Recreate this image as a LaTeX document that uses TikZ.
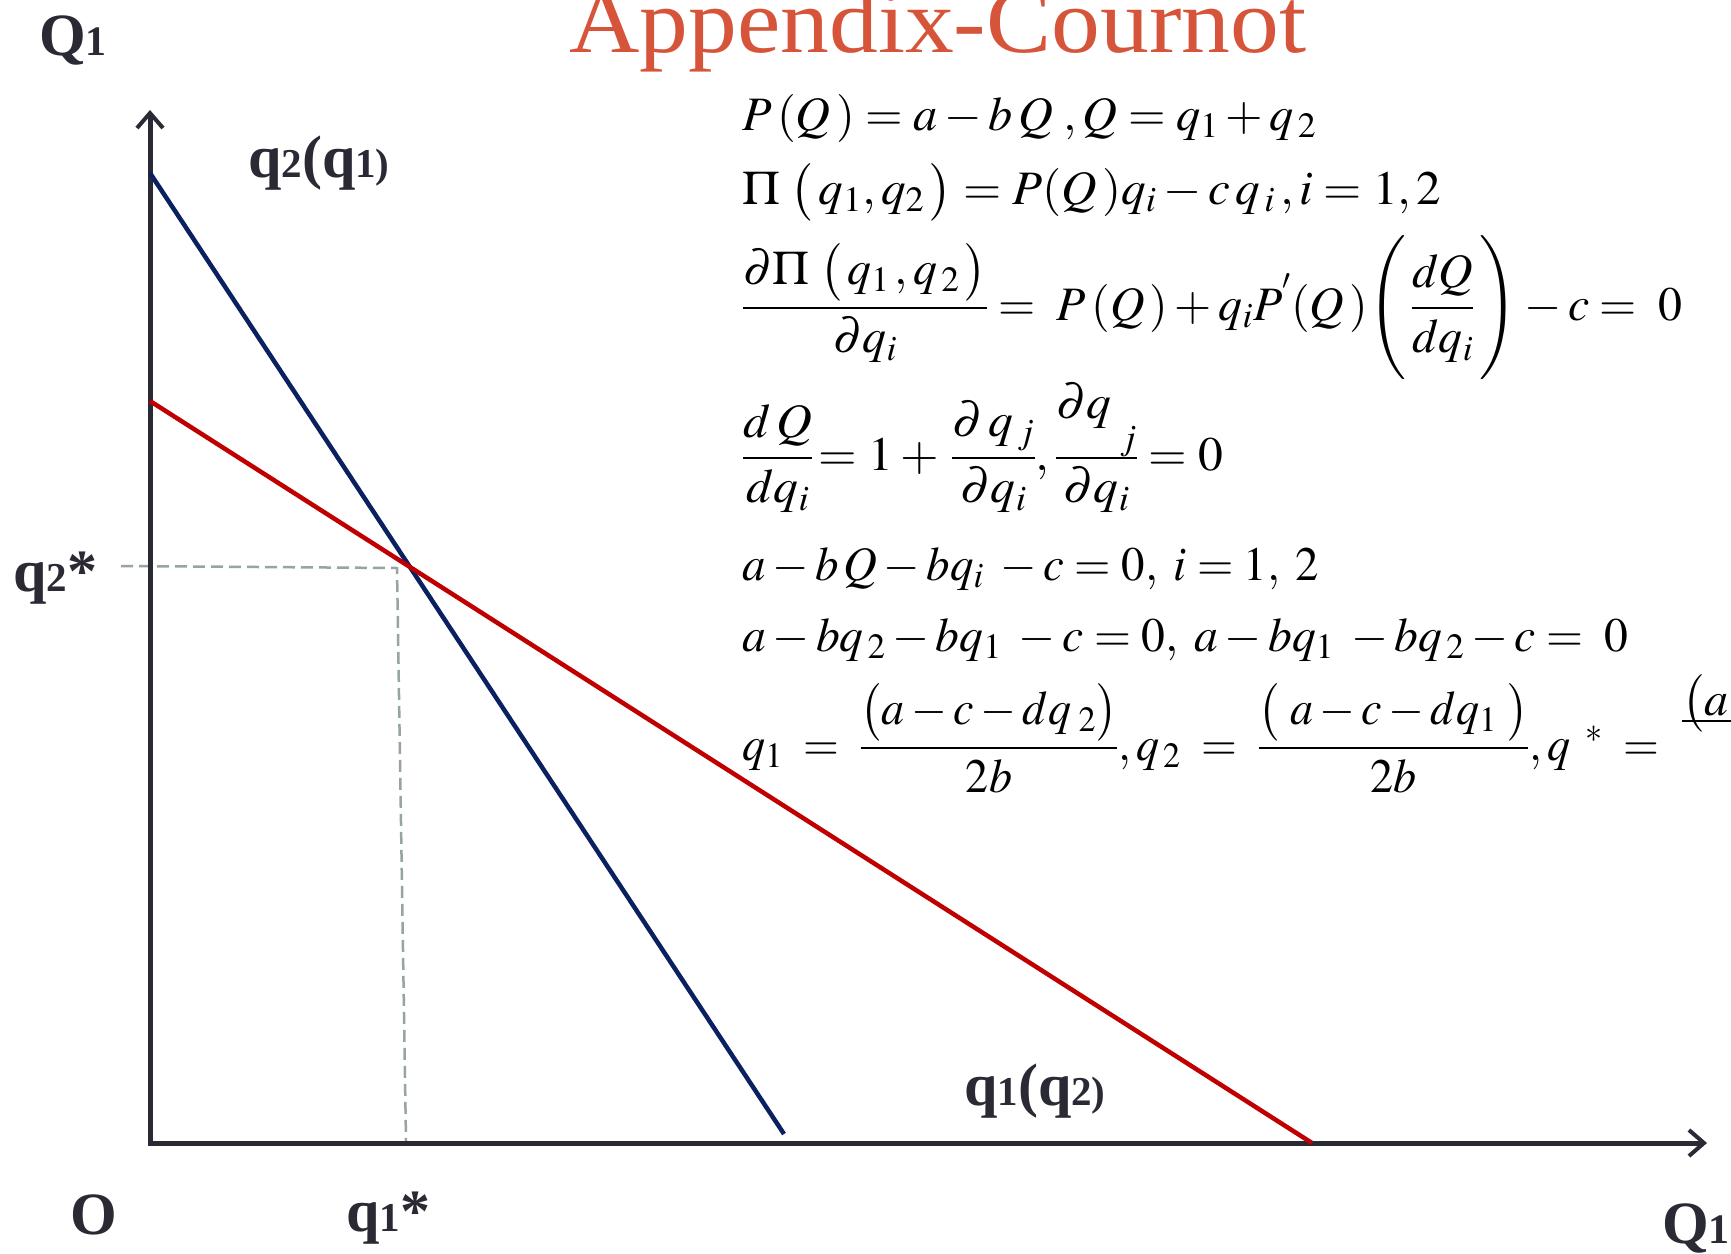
\documentclass[tikz,border=0pt]{standalone}
\usepackage{amsmath}
\usepackage{mathptmx}
\usepackage{graphicx}
\usepackage[no-math]{fontspec}
\setmainfont{Liberation Serif}
\usetikzlibrary{arrows.meta}
\definecolor{axisc}{RGB}{42,42,52}
\definecolor{bluel}{RGB}{10,32,96}
\definecolor{redl}{RGB}{192,0,0}
\definecolor{titlec}{RGB}{214,84,58}
\definecolor{dashc}{RGB}{150,166,158}
\newcommand\dgt[1]{{\fontsize{41}{44}\selectfont #1}}
\newcommand\dgQ[1]{{\fontsize{42}{46}\selectfont #1}}
\tikzset{
  axisline/.style={draw=axisc, line width=5pt, line join=miter,
    {Straight Barb[length=15pt,width=26pt,line width=4pt]}-{Straight Barb[length=15pt,width=26pt,line width=4pt]}},
  blueline/.style={draw=bluel, line width=4.5pt},
  redline/.style={draw=redl, line width=4.5pt},
  guide/.style={draw=dashc, line width=2.5pt, dash pattern=on 12pt off 6pt},
  lbl/.style={text=axisc, inner sep=0pt, anchor=base west, font=\bfseries\fontsize{60}{66}\selectfont},
  biglbl/.style={text=axisc, inner sep=0pt, anchor=base west, font=\bfseries\fontsize{60}{66}\selectfont},
  eq/.style={inner sep=0pt, anchor=base west, font=\fontsize{48}{54}\selectfont},
  titlestyle/.style={inner sep=0pt, anchor=base west, text=titlec, font=\fontsize{92}{100}\selectfont},
}
\begin{document}
\begin{tikzpicture}[x=1pt,y=-1pt]
\clip (0,0) rectangle (1731,1253);
\fill[white] (0,0) rectangle (1731,1253);

% coordinates
\coordinate (O) at (150,1143);
\coordinate (Ytop) at (150,110);
\coordinate (Xend) at (1707,1143);
\coordinate (B1) at (150,173);
\coordinate (B2) at (784,1134);
\coordinate (R1) at (150,401);
\coordinate (R2) at (1312,1143);
\coordinate (D1) at (121,566);
\coordinate (D2) at (397,568);
\coordinate (D3) at (406,1141);

% guides
\draw[guide] (D1) -- (D2) -- (D3);
% axes
\draw[axisline] (Ytop) -- (O) -- (Xend);
% reaction curves
\draw[blueline] (B1) -- (B2);
\draw[redline] (R1) -- (R2);

% title
\node[titlestyle] (title) at (569,52) {\resizebox{737pt}{\height}{Appendix-Cournot}};

% axis labels
\node[biglbl] (Qtop) at (39,55) {Q\dgQ{1}};
\node[biglbl] (Qright) at (1662,1243) {Q\dgQ{1}};
\node[biglbl] (Olbl) at (70,1234) {O};
\node[lbl] (q2q1) at (248,177) {q\dgt{2}(q\dgt{1}\dgt{)}};
\node[lbl] (q1q2) at (964,1105) {q\dgt{1}(q\dgt{2}\dgt{)}};
\node[lbl] (q2star) at (13,591) {q\dgt{2}*};
\node[lbl] (q1star) at (346,1231) {q\dgt{1}*};

% equations
\node[eq] (e1) at (742,130) {\resizebox{574pt}{\height}{$P\,(Q\,) = a - b\,Q\;, Q = q_1 + q_{\,2}$}};
\node[eq] (e2) at (742,204) {\resizebox{699pt}{\height}{$\Pi\;\bigl(\,q_1, q_{2}\,\bigr) = P(Q\,)q_i - c\,q_{\,i}\,, i = 1, 2$}};
\node[eq] (e3) at (742,320) {\resizebox{940pt}{\height}{$\dfrac{\partial\Pi\;\bigl(\,q_1\,,q_{\,2}\,\bigr)}{\partial q_i} = \;P\,(Q\,) + q_i P^{'}(Q\,)\Biggl(\,\dfrac{dQ}{dq_i}\,\Biggr) - c = \;0$}};
\node[eq] (e4) at (742,470) {\resizebox{481pt}{\height}{$\dfrac{d\,Q}{dq_i}\!= 1 + \,\dfrac{\partial\,q_{\,j}}{\partial q_i}, \dfrac{\raisebox{0.4em}{$\partial q$}\hspace{8pt}\smash{\raisebox{-0.25em}{$\scriptstyle j$}}}{\partial q_i} = 0$}};
\node[eq] (e5) at (742,580) {\resizebox{577pt}{\height}{$a - b\,Q - bq_i\; - c = 0,\; i = 1,\; 2$}};
\node[eq] (e6) at (742,651) {\resizebox{886pt}{\height}{$a - bq_{\,2} - bq_1\; - c = 0,\; a - bq_1\; - bq_{\,2} - c = \;0$}};
\node[eq] (e7) at (742,760) {\resizebox{917pt}{\height}{$q_1\; = \;\dfrac{\bigl(a - c - dq_{\;2}\bigr)}{\;2b\;}, q_{\,2}\; = \;\dfrac{\bigl(\;a - c - dq_1\;\bigr)}{\;2b\;}, q^{\;\;*}\; =$}};
\node[eq] (e8) at (1682,715) {\rlap{\rule[-7pt]{60pt}{2.2pt}}$\bigl(a$};
\end{tikzpicture}
\end{document}
